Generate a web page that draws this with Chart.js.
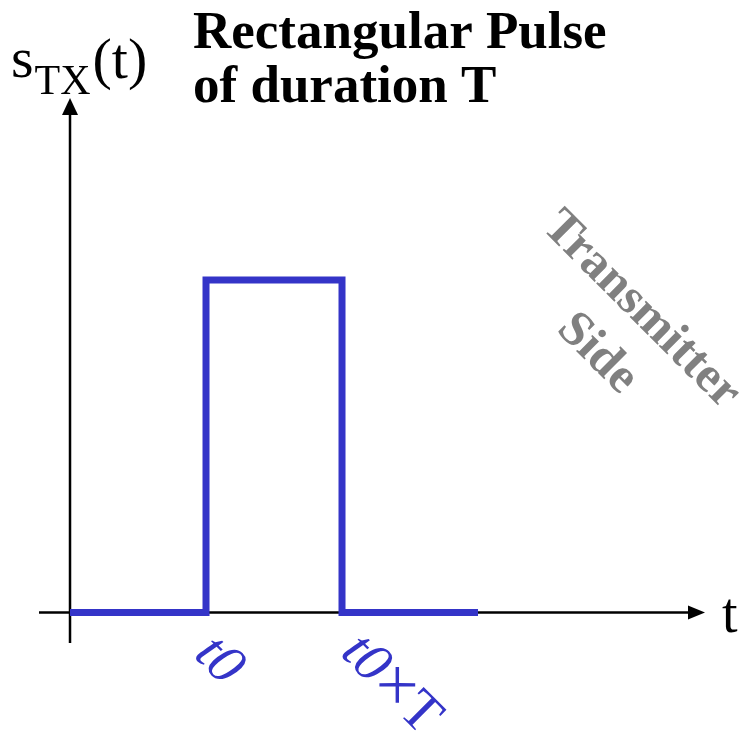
<!DOCTYPE html>
<html>
<head>
<meta charset="utf-8">
<script src="https://cdn.jsdelivr.net/npm/chart.js@4"></script>
<style>
  html, body { margin: 0; padding: 0; background: #fff; }
  canvas { display: block; }
</style>
</head>
<body>
<canvas id="pulseChart" width="744" height="734"></canvas>
<script>
// pulse corners: time (in units of T, t0 = 1) and amplitude
const times = [0, 1, 1, 2, 2, 3];
const amplitude = [0, 0, 1, 1, 0, 0];

// tick marks under the time axis
const tickValues = [1, 2];
const tickLabels = [['t0'], ['t0', '×', 'T']];

const titleLines = ['Rectangular Pulse', 'of duration T'];
const sideLines = ['Transmitter', 'Side'];

const blue = '#3434c8';

// axes with arrow heads plus all the text
const decorations = {
  id: 'decorations',
  beforeDatasetsDraw(chart) {
    const { ctx, chartArea: a, scales: { x, y } } = chart;
    const x0 = x.getPixelForValue(0);
    const y0 = y.getPixelForValue(0);
    ctx.save();
    ctx.strokeStyle = '#000';
    ctx.fillStyle = '#000';
    ctx.lineWidth = 2.5;

    // time axis
    ctx.beginPath();
    ctx.moveTo(a.left, y0);
    ctx.lineTo(a.right - 14, y0);
    ctx.stroke();
    ctx.beginPath();
    ctx.moveTo(a.right, y0);
    ctx.lineTo(a.right - 17, y0 - 7);
    ctx.lineTo(a.right - 17, y0 + 7);
    ctx.closePath();
    ctx.fill();

    // amplitude axis
    ctx.beginPath();
    ctx.moveTo(x0, a.bottom);
    ctx.lineTo(x0, a.top + 14);
    ctx.stroke();
    ctx.beginPath();
    ctx.moveTo(x0, a.top);
    ctx.lineTo(x0 - 8, a.top + 17);
    ctx.lineTo(x0 + 8, a.top + 17);
    ctx.closePath();
    ctx.fill();
    ctx.restore();
  },
  afterDraw(chart) {
    const { ctx, scales: { x, y } } = chart;
    const y0 = y.getPixelForValue(0);
    ctx.save();
    ctx.textBaseline = 'alphabetic';
    ctx.textAlign = 'left';

    // title
    ctx.fillStyle = '#000';
    ctx.font = 'bold 53px "Liberation Serif"';
    ctx.fillText(titleLines[0], 193, 48);
    ctx.fillText(titleLines[1], 193, 102);

    // s_TX(t)
    ctx.font = '58px "Liberation Serif"';
    let px = 11;
    ctx.fillText('s', px, 77);
    px += ctx.measureText('s').width + 1;
    ctx.font = '42px "Liberation Serif"';
    ctx.fillText('TX', px, 94);
    px += ctx.measureText('TX').width + 2;
    ctx.font = '58px "Liberation Serif"';
    ctx.fillText('(t)', px, 78);

    // time axis name
    ctx.font = '56px "Liberation Serif"';
    ctx.fillText('t', 722, 632);

    // tick labels, slanted; offset of each label centre from its tick
    const offsets = [[14, 47], [50, 71]];
    const partFonts = ['italic 56px "Liberation Serif"', '68px "Liberation Serif"', '56px "Liberation Serif"'];
    ctx.fillStyle = blue;
    ctx.textBaseline = 'middle';
    tickValues.forEach((v, i) => {
      const parts = tickLabels[i];
      const widths = parts.map((p, j) => { ctx.font = partFonts[j]; return ctx.measureText(p).width; });
      const total = widths.reduce((s, w) => s + w, 0);
      ctx.save();
      ctx.translate(x.getPixelForValue(v) + offsets[i][0], y0 + offsets[i][1]);
      ctx.rotate(Math.PI / 4);
      let tx = -total / 2;
      parts.forEach((p, j) => {
        ctx.font = partFonts[j];
        ctx.fillText(p, tx, 2);
        tx += widths[j];
      });
      ctx.restore();
    });

    // side note
    ctx.fillStyle = '#808080';
    ctx.font = 'bold 50px "Liberation Serif"';
    ctx.textAlign = 'center';
    ctx.textBaseline = 'middle';
    ctx.save();
    ctx.translate(641, 310);
    ctx.rotate(Math.PI / 4);
    ctx.fillText(sideLines[0], 0, 0);
    ctx.fillText(sideLines[1], 0, 62);
    ctx.restore();
    ctx.restore();
  }
};

new Chart(document.getElementById('pulseChart').getContext('2d'), {
  type: 'line',
  data: {
    datasets: [{
      data: times.map((t, i) => ({ x: t, y: amplitude[i] })),
      borderColor: blue,
      borderWidth: 7,
      borderJoinStyle: 'miter',
      borderCapStyle: 'butt',
      pointRadius: 0,
      tension: 0,
      fill: false
    }]
  },
  options: {
    responsive: false,
    animation: false,
    layout: { padding: { left: 39, right: 39, top: 98, bottom: 91 } },
    plugins: { legend: { display: false }, tooltip: { enabled: false } },
    scales: {
      x: { type: 'linear', min: -0.228, max: 4.669, display: false },
      y: { type: 'linear', min: -0.0917, max: 1.547, display: false }
    }
  },
  plugins: [decorations]
});
</script>
</body>
</html>
